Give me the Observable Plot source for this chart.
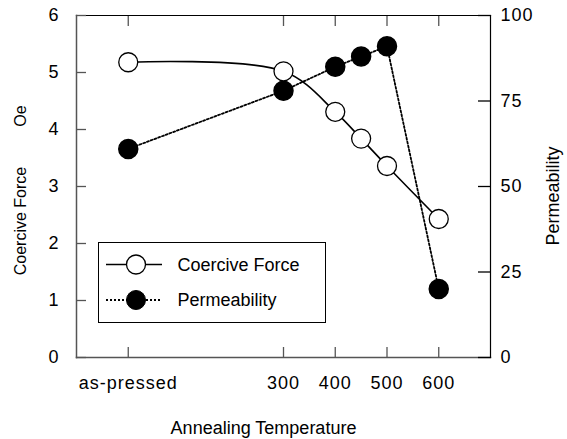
<!DOCTYPE html>
<html>
<head>
<meta charset="utf-8">
<script src="https://cdn.jsdelivr.net/npm/d3@7"></script>
<script src="https://cdn.jsdelivr.net/npm/@observablehq/plot@0.6"></script>
<style>
  html, body { margin: 0; padding: 0; background: #fff; }
  #wrap { position: relative; width: 567px; height: 439px; font-family: "Liberation Sans", Arial, Helvetica, sans-serif; color: #000; }
  #legend { position: absolute; left: 98px; top: 242px; }
  .vlabel { position: absolute; white-space: nowrap; line-height: 1; transform: translate(-50%, -50%) rotate(-90deg); }
</style>
</head>
<body>
<div id="wrap"></div>
<script>
// Annealing temperature positions (as-pressed placed at 0)
const temps = [0, 300, 400, 450, 500, 600];
const coercive = [5.18, 5.02, 4.31, 3.84, 3.36, 2.43];      // Oe, left axis
const permeability = [61, 78, 85, 88, 91, 20];             // right axis
const xTicks = [0, 300, 400, 500, 600];
const xTickLabels = ["as-pressed", "300", "400", "500", "600"];
const leftTicks = [0, 1, 2, 3, 4, 5, 6];
const rightTicks = [0, 25, 50, 75, 100];

const k = 6 / 100; // permeability -> left-axis units
const cData = temps.map((t, i) => ({t, v: coercive[i]}));
const pData = temps.map((t, i) => ({t, v: permeability[i] * k}));
const font = "Liberation Sans, Arial, Helvetica, sans-serif";

const chart = Plot.plot({
  width: 567,
  height: 439,
  marginLeft: 76,
  marginRight: 77,
  marginTop: 15,
  marginBottom: 82,
  style: {fontFamily: font, fontSize: "18px", color: "#000", background: "#fff", overflow: "visible"},
  x: {domain: [-100, 700], axis: null},
  y: {domain: [0, 6], axis: null},
  marks: [
    // frame
    Plot.frame({anchor: "left", stroke: "#555", strokeWidth: 1.5}),
    Plot.frame({anchor: "bottom", stroke: "#555", strokeWidth: 1.5}),
    Plot.frame({anchor: "top", stroke: "#000", strokeWidth: 1.2}),
    Plot.frame({anchor: "right", stroke: "#000", strokeWidth: 1.2}),
    // inward ticks
    Plot.axisY(leftTicks, {anchor: "left", tickSize: -10, fill: "none", stroke: "#555", strokeWidth: 1.3, label: null}),
    Plot.axisY(rightTicks.map(v => v * k), {anchor: "right", tickSize: -13, fill: "none", stroke: "#000", strokeWidth: 1.3, label: null}),
    Plot.axisX(xTicks, {anchor: "bottom", tickSize: -10, fill: "none", stroke: "#555", strokeWidth: 1.3, label: null}),
    Plot.axisX(xTicks, {anchor: "top", tickSize: -10, fill: "none", stroke: "#555", strokeWidth: 1.3, label: null}),
    // tick labels
    Plot.axisY(leftTicks, {anchor: "left", tickSize: 0, tickPadding: 17, fontSize: 18, label: null,
      tickFormat: d => String(d)}),
    Plot.axisY(rightTicks.map(v => v * k), {anchor: "right", tickSize: 0, tickPadding: 10, fontSize: 18, label: null,
      tickFormat: d => String(Math.round(d / k))}),
    Plot.axisX(xTicks, {anchor: "bottom", tickSize: 0, tickPadding: 19, fontSize: 18, label: null,
      tickFormat: d => xTickLabels[xTicks.indexOf(d)]}),
    // x axis title
    Plot.text(["Annealing Temperature"], {frameAnchor: "bottom", dx: -20, dy: 71, fontSize: 18, lineAnchor: "middle"}),
    // series
    Plot.line(pData, {x: "t", y: "v", stroke: "#000", strokeWidth: 1.8, strokeDasharray: "2,2"}),
    Plot.line(cData, {x: "t", y: "v", stroke: "#000", strokeWidth: 1.6, curve: "catmull-rom"}),
    Plot.dot(pData, {x: "t", y: "v", r: 9.5, fill: "#000", stroke: "#000"}),
    Plot.dot(cData, {x: "t", y: "v", r: 9.5, fill: "#fff", stroke: "#000", strokeWidth: 1.3})
  ]
});

const wrap = document.getElementById("wrap");
wrap.appendChild(chart);
chart.querySelectorAll('g[aria-label$="tick label"]').forEach(g => g.style.letterSpacing = "1px");

// rotated axis titles
function vlabel(text, cx, cy, size) {
  const d = document.createElement("div");
  d.className = "vlabel";
  d.textContent = text;
  d.style.left = cx + "px";
  d.style.top = cy + "px";
  d.style.fontSize = size + "px";
  wrap.appendChild(d);
}
vlabel("Coercive Force", 21, 221, 16);
vlabel("Oe", 21, 116, 16);
vlabel("Permeability", 553, 196, 18);

// legend
const legend = `
<svg id="legend" width="230" height="82" xmlns="http://www.w3.org/2000/svg" style="font-family:${font}">
  <rect x="0.5" y="0.5" width="227" height="80" fill="#fff" stroke="#000" stroke-width="1"/>
  <line x1="8" y1="22.5" x2="64" y2="22.5" stroke="#000" stroke-width="1.6"/>
  <circle cx="38" cy="22.5" r="9.5" fill="#fff" stroke="#000" stroke-width="1.3"/>
  <text x="79.5" y="22.5" dominant-baseline="central" font-size="18">Coercive Force</text>
  <line x1="8" y1="58" x2="64" y2="58" stroke="#000" stroke-width="1.8" stroke-dasharray="2,2"/>
  <circle cx="38" cy="58" r="9.5" fill="#000" stroke="#000"/>
  <text x="79.5" y="58" dominant-baseline="central" font-size="18">Permeability</text>
</svg>`;
wrap.insertAdjacentHTML("beforeend", legend);
</script>
</body>
</html>
